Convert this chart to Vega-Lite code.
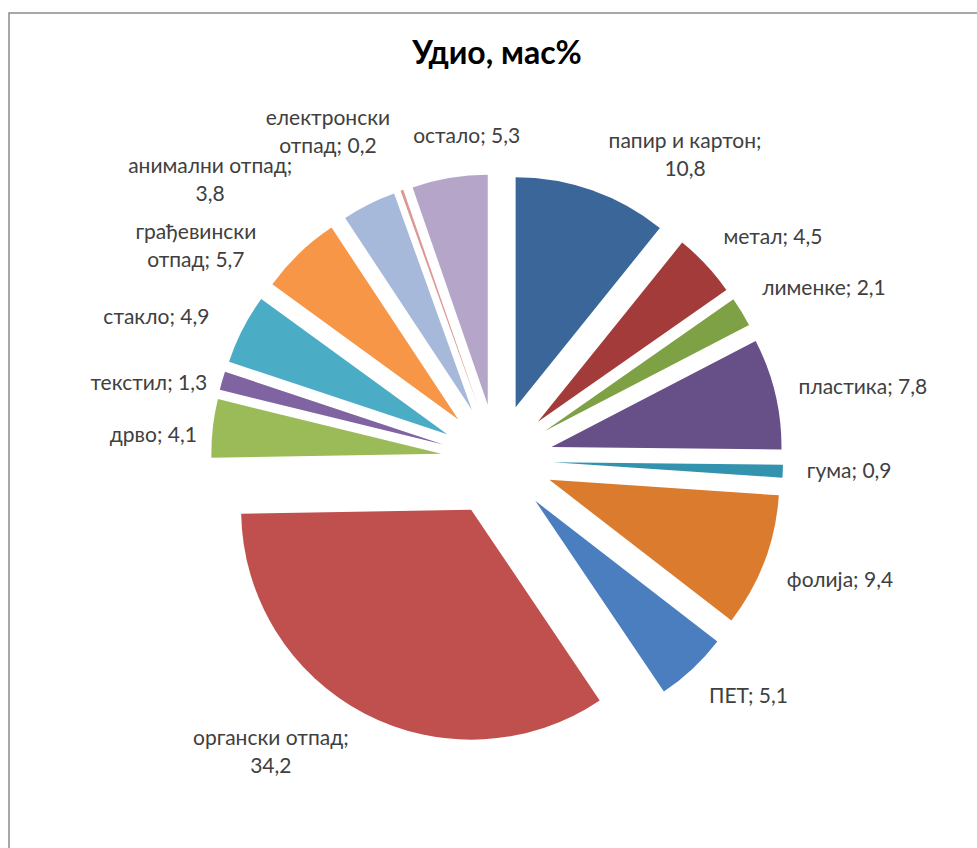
{
  "$schema": "https://vega.github.io/schema/vega-lite/v6.json",
  "width": 977,
  "height": 848,
  "autosize": {"type": "fit", "contains": "padding"},
  "padding": {"left": 9, "top": 13, "right": -8, "bottom": -59},
  "background": "white",
  "title": {
    "text": "Удио, мас%",
    "font": "Lato",
    "fontSize": 32,
    "fontWeight": "bold",
    "color": "#000000",
    "anchor": "middle",
    "baseline": "alphabetic",
    "offset": -83
  },
  "data": {
    "values": [
      {"n": 1, "category": "папир и картон", "value": 10.8, "label": "папир и картон;\n10,8"},
      {"n": 2, "category": "метал", "value": 4.5, "label": "метал; 4,5"},
      {"n": 3, "category": "лименке", "value": 2.1, "label": "лименке; 2,1"},
      {"n": 4, "category": "пластика", "value": 7.8, "label": "пластика; 7,8"},
      {"n": 5, "category": "гума", "value": 0.9, "label": "гума; 0,9"},
      {"n": 6, "category": "фолија", "value": 9.4, "label": "фолија; 9,4"},
      {"n": 7, "category": "ПЕТ", "value": 5.1, "label": "ПЕТ; 5,1"},
      {"n": 8, "category": "органски отпад", "value": 34.2, "label": "органски отпад;\n34,2"},
      {"n": 9, "category": "дрво", "value": 4.1, "label": "дрво; 4,1"},
      {"n": 10, "category": "текстил", "value": 1.3, "label": "текстил; 1,3"},
      {"n": 11, "category": "стакло", "value": 4.9, "label": "стакло; 4,9"},
      {"n": 12, "category": "грађевински отпад", "value": 5.7, "label": "грађевински\nотпад; 5,7"},
      {"n": 13, "category": "анимални отпад", "value": 3.8, "label": "анимални отпад;\n3,8"},
      {"n": 14, "category": "електронски отпад", "value": 0.2, "label": "електронски\nотпад; 0,2"},
      {"n": 15, "category": "остало", "value": 5.3, "label": "остало; 5,3"}
    ]
  },
  "transform": [
    {"stack": "value", "groupby": [], "sort": [{"field": "n", "order": "ascending"}], "as": ["v0", "v1"]},
    {"joinaggregate": [{"op": "sum", "field": "value", "as": "total"}]},
    {"calculate": "PI * (datum.v0 + datum.v1) / datum.total", "as": "mid"},
    {"calculate": "56 * sin(datum.mid)", "as": "ox"},
    {"calculate": "56 * cos(datum.mid)", "as": "oy"},
    {"calculate": "310 * sin(datum.mid)", "as": "lx"},
    {"calculate": "310 * cos(datum.mid)", "as": "ly"}
  ],
  "encoding": {
    "x": {"field": "lx", "type": "quantitative", "scale": {"domain": [-488, 488], "nice": false, "zero": false}, "axis": null},
    "y": {"field": "ly", "type": "quantitative", "scale": {"domain": [-447, 447], "nice": false, "zero": false}, "axis": null},
    "text": {"field": "label", "type": "nominal"}
  },
  "layer": [
    {
      "mark": {"type": "arc", "radius": 230, "stroke": null},
      "encoding": {
        "theta": {"field": "v0", "type": "quantitative", "scale": {"domain": [0, 100.1], "nice": false}},
        "theta2": {"field": "v1"},
        "x": {"field": "ox", "type": "quantitative"},
        "y": {"field": "oy", "type": "quantitative"},
        "text": null,
        "color": {
          "field": "category",
          "type": "nominal",
          "legend": null,
          "scale": {
            "domain": ["папир и картон", "метал", "лименке", "пластика", "гума", "фолија", "ПЕТ", "органски отпад", "дрво", "текстил", "стакло", "грађевински отпад", "анимални отпад", "електронски отпад", "остало"],
            "range": ["#3B6699", "#A23B39", "#7FA146", "#674F88", "#3393AE", "#DA7B2E", "#4A7EBF", "#C0504D", "#9BBB59", "#8064A2", "#4BACC6", "#F79646", "#A7B9DA", "#DB9896", "#B5A6C9"]
          }
        }
      }
    },
    {
      "transform": [{"filter": "datum.n >= 2 && datum.n <= 7"}],
      "mark": {
        "type": "text",
        "font": "Lato",
        "fontSize": 21,
        "color": "#404040",
        "align": "left",
        "baseline": {"expr": "cos(datum.mid) > 0.3 ? 'bottom' : (cos(datum.mid) < -0.3 ? 'top' : 'middle')"}
      }
    },
    {
      "transform": [{"filter": "datum.n == 9 || datum.n == 10"}],
      "mark": {"type": "text", "font": "Lato", "fontSize": 21, "color": "#404040", "align": "right", "baseline": "middle", "dx": 8, "dy": 10}
    },
    {
      "transform": [{"filter": "datum.n == 11"}],
      "mark": {"type": "text", "font": "Lato", "fontSize": 21, "color": "#404040", "align": "right", "baseline": "bottom", "dx": -12, "dy": 10}
    },
    {
      "transform": [{"filter": "datum.n == 1"}],
      "mark": {"type": "text", "font": "Lato", "fontSize": 21, "lineHeight": 28, "color": "#404040", "lineBreak": "\n", "align": "center", "baseline": "bottom", "dx": 85, "dy": -16}
    },
    {
      "transform": [{"filter": "datum.n == 8"}],
      "mark": {"type": "text", "font": "Lato", "fontSize": 21, "lineHeight": 28, "color": "#404040", "lineBreak": "\n", "align": "center", "baseline": "top", "dx": -83, "dy": -7}
    },
    {
      "transform": [{"filter": "datum.n == 12"}],
      "mark": {"type": "text", "font": "Lato", "fontSize": 21, "lineHeight": 28, "color": "#404040", "lineBreak": "\n", "align": "center", "baseline": "bottom", "dx": -87, "dy": 7}
    },
    {
      "transform": [{"filter": "datum.n == 13"}],
      "mark": {"type": "text", "font": "Lato", "fontSize": 21, "lineHeight": 28, "color": "#404040", "lineBreak": "\n", "align": "center", "baseline": "bottom", "dx": -148, "dy": -6}
    },
    {
      "transform": [{"filter": "datum.n == 14"}],
      "mark": {"type": "text", "font": "Lato", "fontSize": 21, "lineHeight": 28, "color": "#404040", "lineBreak": "\n", "align": "center", "baseline": "bottom", "dx": -66, "dy": -39}
    },
    {
      "transform": [{"filter": "datum.n == 15"}],
      "mark": {"type": "text", "font": "Lato", "fontSize": 21, "color": "#404040", "align": "center", "baseline": "bottom", "dx": 21, "dy": -7}
    }
  ],
  "config": {
    "view": {"stroke": "#8c8c8c", "strokeWidth": 1.5}
  }
}
